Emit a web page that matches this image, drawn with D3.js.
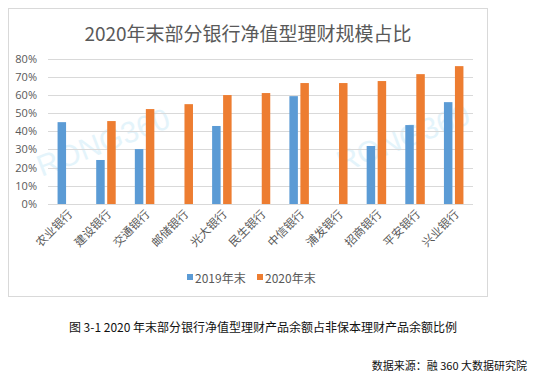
<!DOCTYPE html>
<html>
  <head>
    <meta charset="utf-8">
    <title>2020年末部分银行净值型理财规模占比</title>
    <script src="https://cdn.jsdelivr.net/npm/d3@7"></script>
    <style>
      body { margin: 0; background: #fff; }
      svg { display: block; font-family: "Noto Sans CJK SC", "Noto Sans", sans-serif; }
      .axis text { fill: #595959; }
    </style>
  </head>

  <body>
    <svg id="chart" width="534" height="376"></svg>

    <script>
      // data
      banks = ["农业银行", "建设银行", "交通银行", "邮储银行", "光大银行", "民生银行", "中信银行", "浦发银行", "招商银行", "平安银行", "兴业银行"];
      seriesNames = ["2019年末", "2020年末"];
      values2019 = [45.0, 24.2, 30.2, null, 42.9, null, 59.3, null, 31.9, 43.4, 56.0];
      values2020 = [null, 45.6, 52.2, 54.9, 59.9, 61.0, 66.5, 66.5, 67.6, 71.4, 75.8];
      yTicks = [0, 10, 20, 30, 40, 50, 60, 70, 80];
      colors = ["#5b9bd5", "#ed7d31"];

      chart = d3.select("#chart");

      margin = { top: 58, right: 61, bottom: 172, left: 48 };
      width = 534;
      height = 376;

      // frame
      chart.append("rect")
        .attr("x", 8.5)
        .attr("y", 8.5)
        .attr("width", 479)
        .attr("height", 288)
        .attr("fill", "#fff")
        .attr("stroke", "#d9d9d9");

      // title
      chart.append("text")
        .attr("x", 248)
        .attr("y", 32)
        .attr("text-anchor", "middle")
        .attr("dominant-baseline", "central")
        .style("font-size", "19px")
        .style("fill", "#595959")
        .text("2020年末部分银行净值型理财规模占比");

      x = d3.scaleBand()
        .domain(banks)
        .range([margin.left, width - margin.right])
        .padding(0);

      y = d3.scaleLinear()
        .domain([0, 80])
        .range([204, 58.5]);

      // watermark
      [[103, 142], [403, 138]].forEach(p => {
        chart.append("text")
          .attr("transform", "translate(" + p[0] + "," + p[1] + ") rotate(-21)")
          .attr("text-anchor", "middle")
          .attr("dominant-baseline", "central")
          .style("font-size", "30px")
          .style("font-family", "Arial, 'Liberation Sans', sans-serif")
          .style("fill", "#e4f4fb")
          .text("RONG360");
      });

      // gridlines
      chart.append("g")
        .selectAll("line")
          .data(yTicks)
        .enter().append("line")
          .attr("x1", margin.left)
          .attr("x2", width - margin.right)
          .attr("y1", d => Math.round(y(d)) + 0.5)
          .attr("y2", d => Math.round(y(d)) + 0.5)
          .attr("stroke", "#d9d9d9");

      // y axis
      yAxis = d3.axisLeft(y)
        .tickValues(yTicks)
        .tickFormat(d => d + "%")
        .tickSize(0)
        .tickPadding(11);

      chart.append("g")
        .attr("class", "axis")
        .attr("transform", "translate(" + margin.left + ",0)")
        .call(yAxis)
        .call(g => g.select(".domain").remove())
        .selectAll("text")
          .style("font-size", "11px")
          .style("font-family", "'Open Sans', 'Noto Sans', sans-serif");

      // bars
      barWidth = 8.5;
      gap = 2.5;
      [values2019, values2020].forEach((series, s) => {
        chart.append("g")
          .selectAll("rect")
            .data(banks.map((b, i) => ({ bank: b, value: series[i] })).filter(d => d.value != null))
          .enter().append("rect")
            .attr("x", d => x(d.bank) + x.bandwidth() / 2 + (s == 0 ? -gap / 2 - barWidth : gap / 2))
            .attr("y", d => y(d.value))
            .attr("width", barWidth)
            .attr("height", d => y(0) - y(d.value))
            .attr("fill", colors[s]);
      });

      // x labels
      chart.append("g")
        .attr("class", "axis")
        .selectAll("text")
          .data(banks)
        .enter().append("text")
          .attr("transform", d => "translate(" + (x(d) + x.bandwidth() / 2 + 3) + ",212) rotate(-45)")
          .attr("text-anchor", "end")
          .attr("dy", "0.35em")
          .style("font-size", "11.5px")
          .text(d => d);

      // legend
      legendX = [187, 257];
      seriesNames.forEach((name, i) => {
        chart.append("rect")
          .attr("x", legendX[i])
          .attr("y", 274)
          .attr("width", 6)
          .attr("height", 6)
          .attr("fill", colors[i]);
        chart.append("text")
          .attr("x", legendX[i] + 8)
          .attr("y", 277)
          .attr("dominant-baseline", "central")
          .style("font-size", "12px")
          .style("fill", "#595959")
          .text(name);
      });

      // caption and source
      chart.append("text")
        .attr("x", 263)
        .attr("y", 326)
        .attr("text-anchor", "middle")
        .attr("dominant-baseline", "central")
        .style("font-size", "12px")
        .style("fill", "#111")
        .text("图 3-1  2020 年末部分银行净值型理财产品余额占非保本理财产品余额比例");

      chart.append("text")
        .attr("x", 527)
        .attr("y", 365)
        .attr("text-anchor", "end")
        .attr("dominant-baseline", "central")
        .style("font-size", "11px")
        .style("fill", "#111")
        .text("数据来源：融 360 大数据研究院");
    </script>
  </body>
</html>
